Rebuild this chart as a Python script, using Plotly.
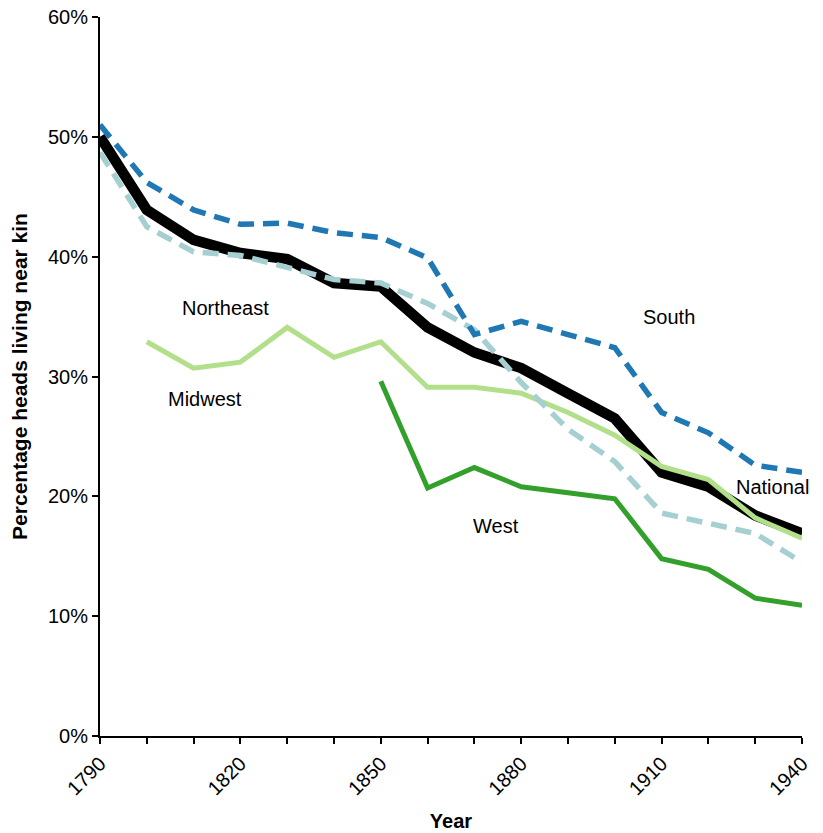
import plotly.graph_objects as go

years = [1790, 1800, 1810, 1820, 1830, 1840, 1850, 1860, 1870, 1880, 1890, 1900, 1910, 1920, 1930, 1940]
national = [50.0, 43.9, 41.4, 40.3, 39.8, 37.8, 37.5, 34.1, 32.0, 30.7, 28.6, 26.5, 22.0, 20.8, 18.4, 16.9]
south = [51.0, 46.2, 43.9, 42.7, 42.8, 42.0, 41.6, 39.9, 33.5, 34.6, 33.5, 32.4, 27.0, 25.3, 22.6, 22.0]
northeast = [48.7, 42.5, 40.4, 40.1, 39.1, 38.1, 37.8, 36.1, 33.9, 29.5, 25.6, 22.9, 18.6, 17.8, 16.9, 14.5]
midwest_years = years[1:]
midwest = [32.9, 30.7, 31.2, 34.1, 31.6, 32.9, 29.1, 29.1, 28.6, 27.0, 25.1, 22.5, 21.4, 18.2, 16.5]
west_years = years[6:]
west = [29.6, 20.7, 22.4, 20.8, 20.3, 19.8, 14.8, 13.9, 11.5, 10.9]

tick_years = list(range(1790, 1941, 10))
tick_text = [str(y) if (y - 1790) % 30 == 0 else "" for y in tick_years]

labels = [
    ("Northeast", 1816.9, 35.7),
    ("Midwest", 1812.4, 28.1),
    ("South", 1911.6, 35.0),
    ("National", 1933.8, 20.8),
    ("West", 1874.6, 17.5),
]

FONT = "Liberation Sans, Arial"

fig = go.Figure()
fig.add_trace(go.Scatter(x=years, y=national, mode="lines", name="National",
                         line=dict(color="black", width=10.5)))
fig.add_trace(go.Scatter(x=midwest_years, y=midwest, mode="lines", name="Midwest",
                         line=dict(color="#b2df8a", width=5)))
fig.add_trace(go.Scatter(x=west_years, y=west, mode="lines", name="West",
                         line=dict(color="#33a02c", width=5)))
fig.add_trace(go.Scatter(x=years, y=northeast, mode="lines", name="Northeast",
                         line=dict(color="#a6cfd1", width=5.5, dash="16px,9px")))
fig.add_trace(go.Scatter(x=years, y=south, mode="lines", name="South",
                         line=dict(color="#1f78b4", width=5.5, dash="16px,9px")))

for text, x, y in labels:
    fig.add_annotation(x=x, y=y, text=text, showarrow=False,
                       font=dict(size=20, color="black", family=FONT))

# page body has an 8px margin, so the figure is sized/offset to compensate
fig.update_layout(
    width=815, height=825,
    margin=dict(l=92, r=21, t=9, b=97, autoexpand=False),
    plot_bgcolor="white", paper_bgcolor="white",
    showlegend=False,
    font=dict(family=FONT, size=20, color="black"),
)
fig.update_xaxes(
    range=[1790, 1940], tickvals=tick_years, ticktext=tick_text, tickangle=-45,
    showgrid=False, zeroline=False, showline=True, linecolor="black", linewidth=2,
    ticks="outside", ticklen=6, tickcolor="black", tickwidth=1.5,
    tickfont=dict(size=20), automargin=False, ticklabeloverflow="allow",
    title=dict(text="<b>Year</b>", font=dict(size=20), standoff=16),
)
fig.update_yaxes(
    range=[0, 60], tickvals=[0, 10, 20, 30, 40, 50, 60],
    ticktext=["0%", "10%", "20%", "30%", "40%", "50%", "60%"],
    showgrid=False, zeroline=False, showline=True, linecolor="black", linewidth=2,
    ticks="outside", ticklen=6, tickcolor="black", tickwidth=1.5,
    tickfont=dict(size=20), automargin=False, ticklabeloverflow="allow",
    title=dict(text="<b>Percentage heads living near kin</b>", font=dict(size=21), standoff=16),
)

fig.write_html("out.html")
